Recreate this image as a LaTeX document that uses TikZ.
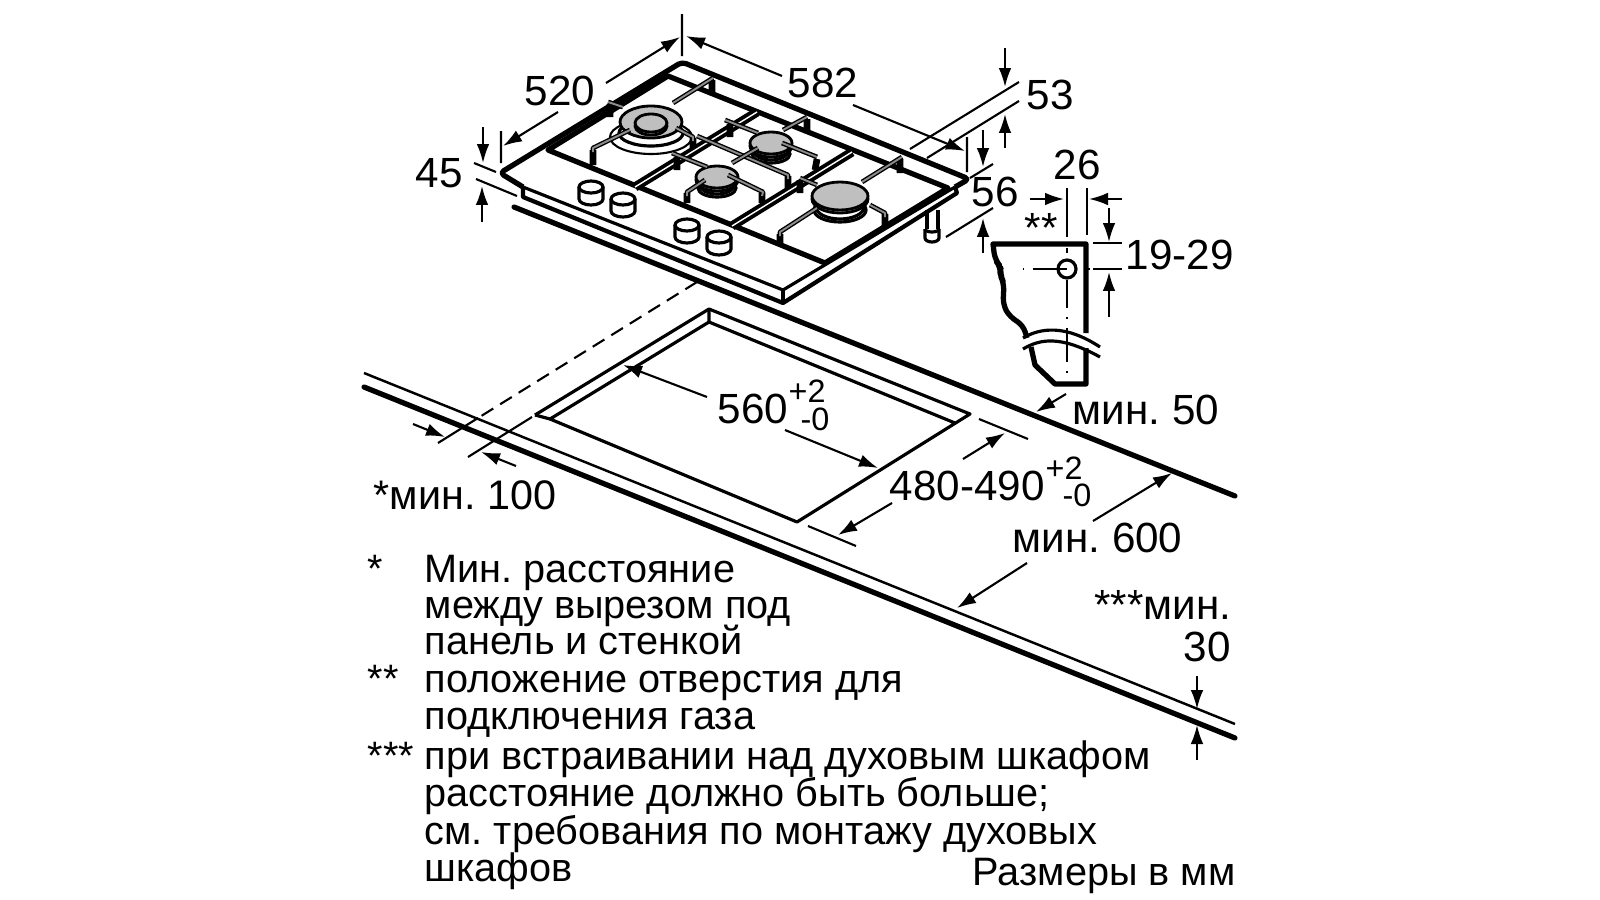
\documentclass[tikz,border=0pt]{standalone}
\usepackage{fontspec}
\setmainfont{Liberation Sans}
\usetikzlibrary{arrows.meta}
\tikzset{
  thinl/.style={line width=0.6pt},
  midl/.style={line width=0.9pt},
  heavy/.style={line width=1.5pt,line join=round},
  worktop/.style={line width=1.5pt,line cap=round},
  dim/.style={line width=0.6pt,-{Latex[length=5.4pt,width=3.6pt]}},
  bar/.style={line width=0.4pt,double=black!45,double distance=0.55pt,line join=round},
  leg/.style={line width=1.9pt},
  divider/.style={line width=1.1pt,double=white,double distance=0.4pt},
  gascap/.style={fill=black!25,draw=black,line width=0.8pt},
  lbl/.style={inner sep=0pt,font=\fontsize{12}{12}\selectfont},
  small/.style={inner sep=0pt,font=\fontsize{9.2}{10}\selectfont},
  txt/.style={inner sep=0pt,anchor=base west,font=\fontsize{11.28}{12}\selectfont}
}
\begin{document}
\frenchspacing
\begin{tikzpicture}[x=0.01cm,y=-0.01cm]
\useasboundingbox (0,0) rectangle (1600,900);
% hob plate
\draw[heavy,rounded corners=1.2pt] (523,187) -- (500,173) -- (682,62) -- (969,179) -- (955,187);
\draw[midl] (523,187) -- (783,290) -- (955,187);
\draw[heavy,line width=1.2pt] (523,187) -- (523,197) -- (783,303) -- (957,193) -- (955,187);
\draw[midl] (783,290) -- (783,303);
% recess
\draw[heavy] (548,150) -- (668,76) -- (948,188) -- (825,263) -- cycle;
\draw[divider] (635,187) -- (757,112);
\draw[divider] (732,226) -- (852,152);
% burners
\draw[thinl] (651,137) ellipse (41 and 17);
\draw[midl] (651,133) ellipse (32 and 13);
\draw[gascap] (651,122) ellipse (31 and 16);
\draw[gascap] (651,126) ellipse (16 and 9);
\draw[gascap] (651,123) ellipse (16 and 9);
\foreach \bx/\by/\rx/\ry in {771/143/21/11,717/177/21/11,840/196/28/14}{
  \draw[midl] (\bx,\by+\ry-3) ellipse[x radius=\rx-4,y radius=\ry-2];
  \draw[midl] (\bx,\by+\ry) ellipse[x radius=\rx-2,y radius=\ry-2];
  \draw[gascap] (\bx,\by+3) ellipse[x radius=\rx,y radius=\ry];
  \draw[gascap] (\bx,\by) ellipse[x radius=\rx,y radius=\ry];
}
% grate
\draw[leg] (712,80) -- (712,95) (610,104) -- (610,117) (593,150) -- (593,165)
  (693,138) -- (693,148) (677,157) -- (677,170) (788,176) -- (788,188)
  (730,124) -- (730,137) (807,119) -- (807,133) (817,159) -- (815,170)
  (687,193) -- (687,203) (762,193) -- (762,203) (900,159) -- (900,173)
  (800,180) -- (800,193) (780,234) -- (780,243) (885,214) -- (885,227);
\draw[bar] (673,103) -- (713,78);
\draw[bar] (608,102) -- (623,107);
\draw[bar] (630,130) -- (593,148) -- (593,152);
\draw[bar] (676,128) -- (693,137) -- (693,141);
\draw[bar] (672,153) -- (707,167);
\draw[bar] (697,136) -- (788,175) -- (788,179);
\draw[bar] (725,120) -- (758,133);
\draw[bar] (732,163) -- (758,148);
\draw[bar] (783,130) -- (807,117);
\draw[bar] (782,143) -- (817,157);
\draw[bar] (705,180) -- (687,192) -- (687,196);
\draw[bar] (728,175) -- (763,192) -- (762,196);
\draw[bar] (862,182) -- (902,157);
\draw[bar] (800,178) -- (817,185);
\draw[bar] (817,208) -- (780,232) -- (780,236);
\draw[bar] (870,205) -- (885,213) -- (885,217);
% knobs
\foreach \kx/\ky in {591/187,623/199,687/225,719/237}{
  \draw[midl] (\kx-12,\ky) -- (\kx-12,\ky+12) arc[start angle=180,end angle=0,x radius=12,y radius=6] -- (\kx+12,\ky);
  \draw[midl] (\kx,\ky) ellipse (12 and 6);
}
% gas pipe
\draw[midl] (927,210) -- (927,229) (938,210) -- (938,229);
\draw[midl] (925,229) -- (925,238) arc[start angle=180,end angle=0,x radius=7,y radius=4] -- (939,229);
\draw[midl] (925,229) arc[start angle=180,end angle=0,x radius=7,y radius=3];
% worktop
\draw[thinl,line width=0.7pt] (364,373) -- (1235,724);
\draw[worktop] (364,387) -- (1235,738);
\draw[worktop] (514,207) -- (1235,496);
% cut-out
\draw[midl,line join=round] (535,415) -- (709,309) -- (970,414) -- (797,522) -- (550,419) -- (709,322) -- (955,423);
\draw[midl] (535,415) -- (550,419) (709,309) -- (709,322);
\draw[thinl,dash pattern=on 3.9pt off 2.3pt] (697,282) -- (478,418);
\draw[thinl] (478,418) -- (438,443) (532,417) -- (468,457);
% section through the worktop
\draw[heavy] [rounded corners=2pt] (1027,338) -- (1023,325) -- (1010,317) -- (1003,305) -- (1004,283) -- (1000,275) -- (1001,267) -- (995,260) [sharp corners] -- (993,244) -- (1086,244) -- (1086,333);
\draw[heavy] (1086,348) -- (1086,384) -- (1055,384) -- (1035,365) -- (1031,347);
\draw[midl] (1023,338) .. controls (1040,328) and (1065,324) .. (1100,347);
\draw[midl] (1023,349) .. controls (1040,339) and (1060,335) .. (1100,357);
\draw[midl] (1067,269) circle (9);
\draw[thinl] (1067,188) -- (1067,237) (1067,248) -- (1067,253) (1067,280) -- (1067,308)
  (1067,317) -- (1067,319) (1067,328) -- (1067,362) (1067,371) -- (1067,373)
  (1022.5,269) -- (1024,269) (1033,269) -- (1067,269) (1088,269) -- (1089.5,269)
  (1087,188) -- (1087,235) (1093,243) -- (1122,243) (1093,269) -- (1122,269);
% extension lines
\draw[thinl] (682,14) -- (682,56) (501,131) -- (501,163) (967,137) -- (967,172)
  (474,163) -- (496,172) (476,179) -- (517,196)
  (910,149) -- (1019,82) (927,158) -- (1019,101)
  (970,178) -- (993,164) (946,237) -- (993,208)
  (979,419) -- (1028,439) (808,526) -- (856,546);
% dimension arrows
\foreach \ax/\ay/\bx/\by in {606/83/680/37,558/112/503/146,782/76/686/36,853/105/965/151,
  1005/48/1005/87,1005/148/1005/114,983/130/983/167,983/253/983/218,483/127/483/163,482/222/482/186,
  1030/199/1064/199,1122/199/1089/199,1109/208/1109/242,1109/317/1109/272,
  413/424/445/437,516/466/481/452,707/397/623/365,785/430/878/468,
  963/459/1005/433,892/503/838/535,1093/521/1172/473,1027/563/957/608,1066/394/1036/412,
  1197/676/1197/709,1197/760/1197/725}{
  \draw[dim] (\ax,\ay) -- (\bx,\by);
}
% labels
\node[lbl] (w520) at (560,91) {520};
\node[lbl] (w582) at (823,83) {582};
\node[lbl] (h53) at (1050,95) {53};
\node[lbl] (h56) at (995,192) {56};
\node[lbl] (h45) at (439,173) {45};
\node[lbl] (h26) at (1077,165) {26};
\node[lbl] (star2) at (1041,228) {**};
\node[lbl,anchor=west] (h19) at (1125,255) {19-29};
\node[lbl,anchor=base west] (min50) at (1072,424) {мин. 50};
\node[lbl,anchor=base west,font=\fontsize{11.75}{12}\selectfont] (min100) at (373,509) {*мин. 100};
\node[lbl,anchor=base west] (w560) at (717,423) {560};
\node[small,anchor=west] (w560up) at (788,391) {+2};
\node[small,anchor=west] (w560dn) at (800,419) {-0};
\node[lbl,anchor=base west] (w480) at (889,500) {480-490};
\node[small,anchor=west] (w480up) at (1045,468) {+2};
\node[small,anchor=west] (w480dn) at (1062,495) {-0};
\node[lbl,anchor=base west] (min600) at (1012,552) {мин. 600};
\node[lbl,anchor=base east] (min30a) at (1232,619) {***мин.};
\node[lbl] (min30b) at (1207,647) {30};
% notes
\node[txt] (s1) at (367,582) {*};
\node[txt] (s2) at (367,692) {**};
\node[txt] (s3) at (367,769) {***};
\foreach \ly/\lt [count=\i] in {582/{Мин. расстояние},618/{между вырезом под},654/{панель и стенкой},
  692/{положение отверстия для},729/{подключения газа},769/{при встраивании над духовым шкафом},
  806/{расстояние должно быть больше;},844/{см. требования по монтажу духовых},881/{шкафов}}{
  \node[txt] (note\i) at (424,\ly) {\lt};
}
\node[txt,anchor=base east] (units) at (1236,885) {Размеры в мм};
\end{tikzpicture}
\end{document}
